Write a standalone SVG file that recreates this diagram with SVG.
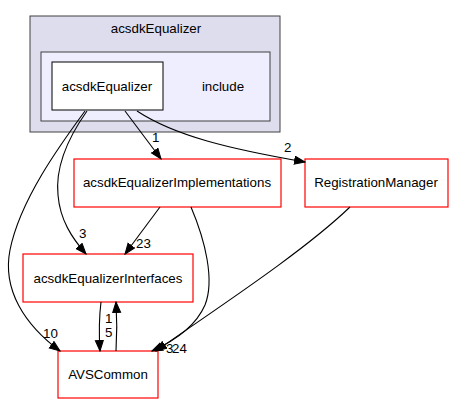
<svg xmlns="http://www.w3.org/2000/svg" width="453" height="404" viewBox="0 0 453 404">
<defs>
<marker id="ah" markerUnits="userSpaceOnUse" markerWidth="12" markerHeight="10" refX="11" refY="4.5" orient="auto" viewBox="0 0 12 10">
<path d="M0.5,0.5 L11,4.5 L0.5,8.5 z" fill="#000" stroke="#000" stroke-width="1"/>
</marker>
<style>
text{font-family:"Liberation Sans",Arial,sans-serif;font-size:13.33px;fill:#000}
.c{text-anchor:middle}
.node{fill:#fff;stroke:#ff0000;stroke-width:1.2}
.e{fill:none;stroke:#000;stroke-width:1.1;marker-end:url(#ah)}
</style>
</defs>
<rect width="453" height="404" fill="#fff"/>
<g id="cluster_acsdkEqualizer">
<rect x="30" y="16" width="250" height="116" fill="#ddddee" stroke="#404040"/>
<text class="c" x="156" y="33">acsdkEqualizer</text>
</g>
<g id="cluster_include">
<rect x="41" y="52" width="229" height="69" fill="#eeeeff" stroke="#404040"/>
<text class="c" x="223" y="91">include</text>
</g>
<g id="node_acsdkEqualizer">
<rect x="52" y="62" width="111" height="48" fill="#fff" stroke="#000"/>
<text class="c" x="107" y="91">acsdkEqualizer</text>
</g>
<g id="node_acsdkEqualizerImplementations">
<rect class="node" x="74" y="159" width="207" height="48"/>
<text class="c" x="177" y="187">acsdkEqualizerImplementations</text>
</g>
<g id="node_RegistrationManager">
<rect class="node" x="305" y="159" width="143" height="48"/>
<text class="c" x="376" y="187">RegistrationManager</text>
</g>
<g id="node_acsdkEqualizerInterfaces">
<rect class="node" x="23" y="254" width="170" height="48"/>
<text class="c" x="108" y="283">acsdkEqualizerInterfaces</text>
</g>
<g id="node_AVSCommon">
<rect class="node" x="58" y="351" width="100" height="47"/>
<text class="c" x="108" y="379">AVSCommon</text>
</g>
<g id="edges">
<path class="e" d="M125,111 L161,159"/>
<text x="152" y="142">1</text>
<path class="e" d="M137,111 C175,136 230,149 305,162"/>
<text x="284" y="152">2</text>
<path class="e" d="M87,111 C70,135 55,165 58,195 C60,220 72,238 86,254"/>
<text x="79" y="238">3</text>
<path class="e" d="M85,111 C60,145 20,200 10,250 C2,290 25,325 60,351"/>
<text x="43" y="338">10</text>
<path class="e" d="M160,207 L125,254"/>
<text x="136" y="248">23</text>
<path class="e" d="M191,207 C205,240 215,280 205,305 C195,328 172,342 152,351"/>
<path class="e" d="M350,207 C300,255 205,316 156,351"/>
<text x="166" y="353">3</text>
<text x="172" y="353">24</text>
<path class="e" d="M101,302 C99,318 99,335 100,351"/>
<text x="105" y="337">5</text>
<text x="105" y="323">1</text>
<path class="e" d="M116,351 C117,335 117,318 116,302"/>
</g>
</svg>
